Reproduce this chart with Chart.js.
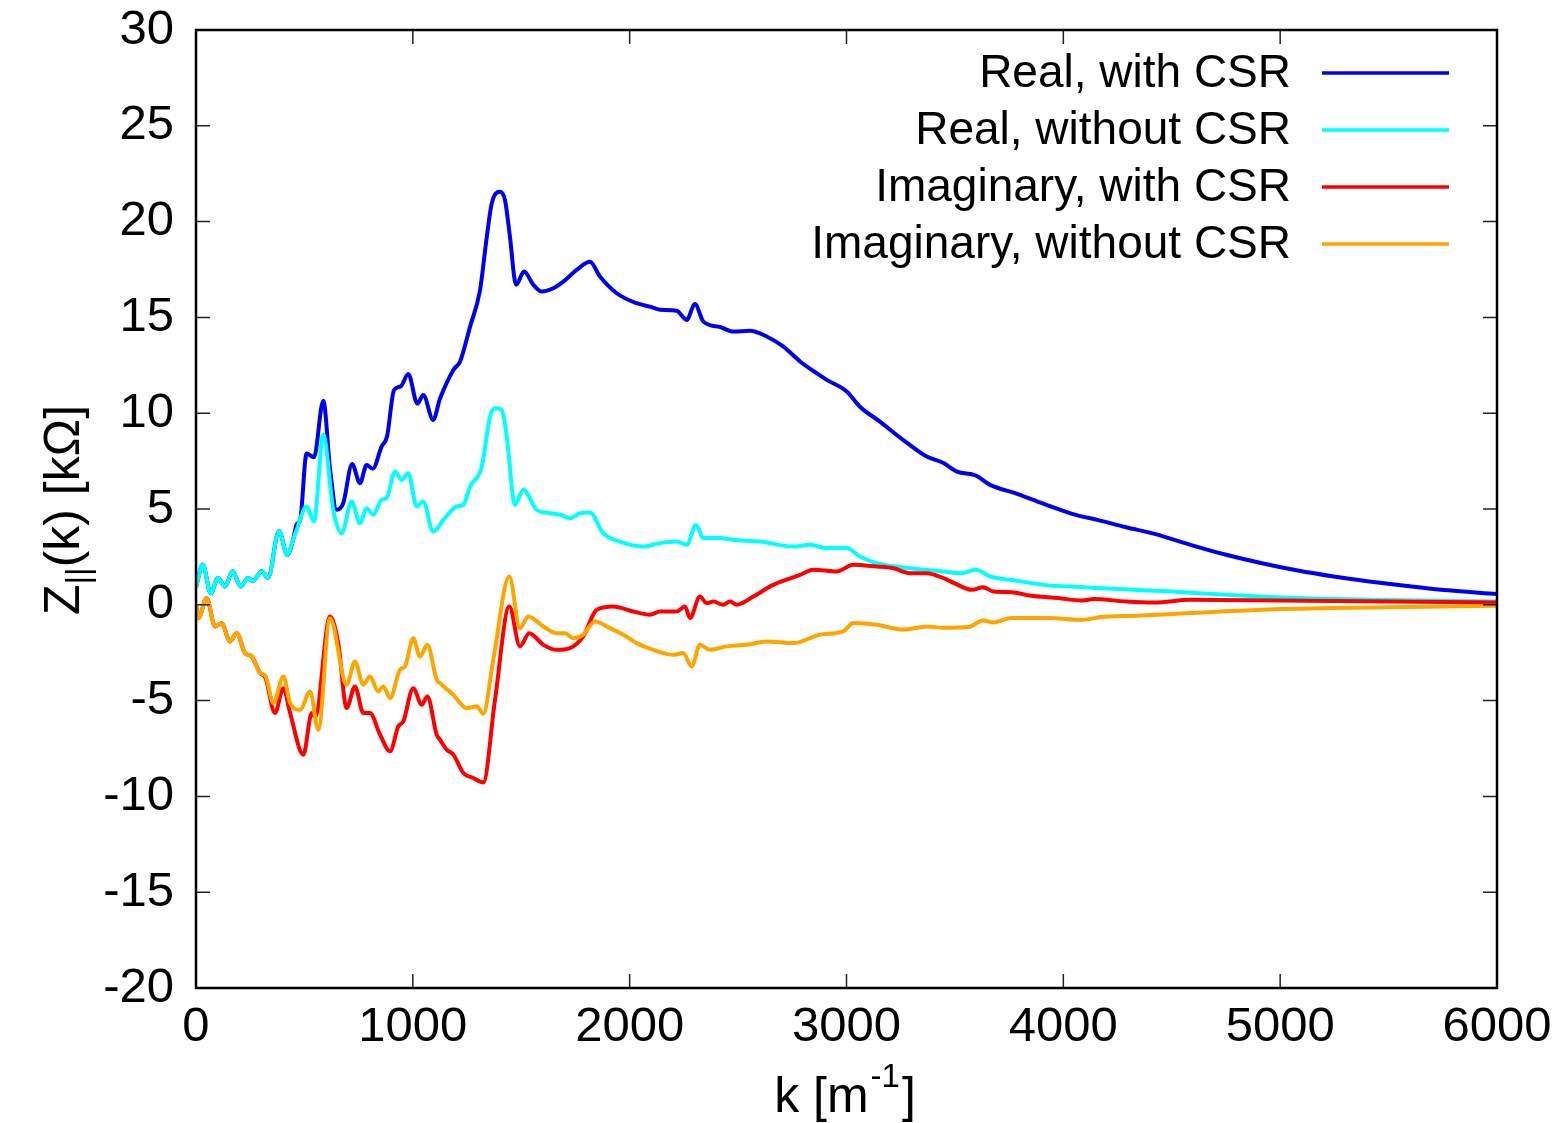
<!DOCTYPE html>
<html>
<head>
<meta charset="utf-8">
<script src="https://cdn.jsdelivr.net/npm/chart.js@4.4.0/dist/chart.umd.min.js"></script>
<style>
  html, body { margin: 0; padding: 0; background: #fff; }
  #wrap { width: 1568px; height: 1123px; }
</style>
</head>
<body>
<div id="wrap"><canvas id="chart" width="1568" height="1123"></canvas></div>
<script>
// values, k in 1/m, Z in kOhm
const realCsrK = [0, 31, 68, 101, 134, 169, 206, 240, 263, 303, 332, 383, 421, 448, 464, 480, 510, 544, 587, 619, 649, 679, 720, 756, 787, 815, 856, 881, 913, 944, 979, 1021, 1048, 1094, 1125, 1187, 1218, 1264, 1310, 1341, 1364, 1402, 1425, 1448, 1476, 1513, 1556, 1594, 1648, 1694, 1756, 1817, 1863, 1940, 2032, 2094, 2140, 2217, 2263, 2301, 2340, 2417, 2478, 2555, 2632, 2709, 2786, 2862, 2909, 3001, 3062, 3154, 3262, 3370, 3447, 3510, 3596, 3662, 3777, 3910, 4058, 4157, 4289, 4421, 4586, 4751, 4916, 5081, 5246, 5411, 5576, 5742, 6000];
const realCsrZ = [0.9, 2.1, 0.6, 1.4, 0.95, 1.75, 0.95, 1.4, 1.25, 1.75, 1.4, 3.85, 2.6, 3.4, 4.2, 4.4, 7.9, 7.7, 10.65, 7.0, 4.96, 5.3, 7.35, 6.35, 7.3, 7.1, 8.26, 8.78, 11.2, 11.4, 12.05, 10.5, 10.95, 9.65, 10.75, 12.26, 12.7, 14.52, 16.43, 19.2, 20.95, 21.56, 21.13, 19.2, 16.7, 17.39, 16.7, 16.35, 16.52, 16.87, 17.48, 17.9, 17.13, 16.26, 15.74, 15.56, 15.4, 15.35, 14.87, 15.7, 14.78, 14.5, 14.26, 14.3, 14.0, 13.47, 12.7, 12.09, 11.74, 11.13, 10.34, 9.56, 8.6, 7.74, 7.4, 6.95, 6.75, 6.26, 5.83, 5.27, 4.69, 4.43, 4.05, 3.7, 3.13, 2.61, 2.17, 1.79, 1.48, 1.22, 0.99, 0.78, 0.56];

const realNoCsrK = [0, 31, 68, 101, 134, 169, 206, 240, 263, 303, 332, 383, 421, 448, 464, 510, 544, 587, 633, 672, 718, 756, 787, 817, 856, 879, 918, 948, 979, 1018, 1048, 1094, 1141, 1202, 1233, 1264, 1318, 1356, 1379, 1410, 1433, 1471, 1510, 1571, 1633, 1679, 1725, 1771, 1817, 1878, 1955, 2063, 2140, 2217, 2263, 2306, 2340, 2417, 2478, 2601, 2755, 2832, 2909, 3001, 3062, 3139, 3293, 3447, 3530, 3596, 3662, 3777, 3910, 4091, 4256, 4504, 4751, 5081, 5411, 6000];
const realNoCsrZ = [0.9, 2.1, 0.6, 1.4, 0.95, 1.75, 0.95, 1.4, 1.25, 1.75, 1.4, 3.85, 2.6, 3.4, 3.9, 5.13, 4.35, 8.87, 4.96, 3.74, 5.39, 4.26, 5.04, 4.7, 5.48, 5.57, 6.96, 6.52, 6.87, 5.13, 5.39, 3.82, 4.43, 5.13, 5.22, 6.17, 7.21, 9.82, 10.26, 10.17, 8.78, 5.22, 6.0, 4.96, 4.78, 4.7, 4.52, 4.78, 4.82, 3.74, 3.3, 3.04, 3.22, 3.3, 3.13, 4.17, 3.48, 3.48, 3.39, 3.3, 3.04, 3.13, 2.96, 2.96, 2.52, 2.17, 1.91, 1.74, 1.65, 1.83, 1.48, 1.27, 1.04, 0.92, 0.82, 0.69, 0.52, 0.35, 0.26, 0.17];

const imagCsrK = [0, 11, 49, 88, 118, 157, 188, 226, 257, 295, 320, 364, 403, 434, 495, 534, 550, 618, 656, 695, 733, 772, 802, 849, 895, 933, 956, 1002, 1041, 1067, 1110, 1125, 1156, 1187, 1233, 1279, 1325, 1379, 1445, 1494, 1537, 1602, 1663, 1725, 1786, 1848, 1924, 2017, 2094, 2140, 2217, 2255, 2278, 2324, 2355, 2386, 2432, 2463, 2494, 2570, 2662, 2786, 2847, 2955, 3031, 3139, 3216, 3293, 3370, 3447, 3497, 3579, 3629, 3679, 3761, 3844, 3976, 4091, 4140, 4289, 4421, 4586, 5000, 6000];
const imagCsrZ = [0, -0.7, 0.35, -1.13, -0.96, -1.91, -1.48, -2.52, -2.7, -3.56, -3.8, -5.65, -4.35, -5.65, -7.82, -5.65, -5.83, -0.61, -2.0, -5.39, -4.26, -5.65, -5.65, -6.78, -7.65, -6.35, -6.09, -4.35, -5.22, -4.78, -6.78, -7.04, -7.56, -7.82, -8.78, -9.04, -9.27, -4.96, -0.09, -2.17, -1.48, -2.09, -2.35, -2.26, -1.65, -0.26, -0.09, -0.35, -0.52, -0.35, -0.35, -0.09, -0.69, 0.43, 0.09, 0.17, 0.0, 0.17, 0.0, 0.43, 1.04, 1.56, 1.83, 1.74, 2.09, 2.0, 1.91, 1.65, 1.65, 1.39, 1.13, 0.78, 0.92, 0.69, 0.66, 0.49, 0.35, 0.22, 0.3, 0.17, 0.12, 0.26, 0.22, 0.12];

const imagNoCsrK = [0, 11, 49, 88, 118, 157, 188, 226, 257, 295, 320, 357, 403, 434, 480, 526, 564, 618, 695, 733, 772, 802, 841, 864, 895, 941, 964, 1002, 1033, 1067, 1110, 1125, 1187, 1248, 1295, 1325, 1371, 1445, 1494, 1532, 1602, 1663, 1702, 1740, 1786, 1840, 1909, 1971, 2032, 2109, 2201, 2247, 2286, 2324, 2370, 2447, 2540, 2632, 2755, 2878, 2985, 3031, 3139, 3262, 3370, 3447, 3563, 3629, 3679, 3761, 3926, 4091, 4173, 4338, 4586, 4916, 5246, 6000];
const imagNoCsrZ = [0, -0.7, 0.35, -1.13, -0.96, -1.91, -1.48, -2.52, -2.7, -3.56, -3.7, -5.13, -3.74, -5.13, -5.48, -4.52, -6.52, -0.7, -4.17, -2.96, -4.17, -3.74, -4.52, -4.26, -4.87, -3.39, -3.22, -1.74, -2.7, -2.09, -3.91, -4.09, -4.7, -5.39, -5.3, -5.69, -2.87, 1.48, -1.22, -0.61, -1.13, -1.48, -1.48, -1.74, -1.56, -0.87, -1.22, -1.56, -2.0, -2.35, -2.61, -2.52, -3.22, -2.09, -2.35, -2.17, -2.09, -1.91, -2.0, -1.56, -1.39, -0.95, -1.04, -1.3, -1.13, -1.2, -1.16, -0.82, -0.92, -0.69, -0.69, -0.78, -0.64, -0.57, -0.43, -0.26, -0.17, -0.05];

const seriesLabels = ['Real, with CSR', 'Real, without CSR', 'Imaginary, with CSR', 'Imaginary, without CSR'];
const seriesColors = ['#0000f0', '#00ffff', '#ff0000', '#ffa500'];
const xTicks = [0, 1000, 2000, 3000, 4000, 5000, 6000];
const yTicks = [-20, -15, -10, -5, 0, 5, 10, 15, 20, 25, 30];

const FONT = '"Liberation Sans", Arial, Helvetica, sans-serif';

function pts(ks, zs) {
    return ks.map((k, i) => ({ x: k, y: zs[i] }));
}

const allK = [realCsrK, realNoCsrK, imagCsrK, imagNoCsrK];
const allZ = [realCsrZ, realNoCsrZ, imagCsrZ, imagNoCsrZ];

const datasets = seriesLabels.map((lab, i) => ({
    label: lab,
    data: pts(allK[i], allZ[i]),
    borderColor: seriesColors[i],
    backgroundColor: seriesColors[i],
    borderWidth: 4,
    pointRadius: 0,
    fill: false,
    cubicInterpolationMode: 'monotone',
    order: 4 - i
}));

// gnuplot-style frame, inward ticks, legend and axis titles
const gnuplotDeco = {
    id: 'gnuplotDeco',
    afterDraw(chart) {
        const ctx = chart.ctx;
        const a = chart.chartArea;
        const xs = chart.scales.x, ys = chart.scales.y;
        ctx.save();
        ctx.strokeStyle = '#222';
        ctx.lineWidth = 1.5;
        const tl = 14;
        ctx.beginPath();
        xTicks.forEach(v => {
            const px = xs.getPixelForValue(v);
            ctx.moveTo(px, a.bottom); ctx.lineTo(px, a.bottom - tl);
            ctx.moveTo(px, a.top); ctx.lineTo(px, a.top + tl);
        });
        yTicks.forEach(v => {
            const py = ys.getPixelForValue(v);
            ctx.moveTo(a.left, py); ctx.lineTo(a.left + tl, py);
            ctx.moveTo(a.right, py); ctx.lineTo(a.right - tl, py);
        });
        ctx.stroke();
        ctx.strokeStyle = '#000';
        ctx.lineWidth = 2.5;
        ctx.strokeRect(a.left, a.top, a.right - a.left, a.bottom - a.top);

        // legend
        ctx.font = '46px ' + FONT;
        ctx.textAlign = 'right';
        ctx.textBaseline = 'middle';
        chart.data.datasets.forEach((ds, i) => {
            const y = 73 + i * 57;
            ctx.fillStyle = '#000';
            ctx.fillText(ds.label, 1291, y + 1);
            ctx.strokeStyle = ds.borderColor;
            ctx.lineWidth = 3.5;
            ctx.beginPath();
            ctx.moveTo(1322, y); ctx.lineTo(1449, y);
            ctx.stroke();
        });

        // x title: k [m^-1]
        ctx.fillStyle = '#000';
        ctx.textAlign = 'left';
        ctx.textBaseline = 'alphabetic';
        const big = '50px ' + FONT, small = '33px ' + FONT;
        ctx.font = big;
        const p1 = 'k [m', p3 = ']';
        ctx.font = small; const w2 = ctx.measureText('-1').width;
        ctx.font = big;
        const w1 = ctx.measureText(p1).width, w3 = ctx.measureText(p3).width;
        let x0 = 845 - (w1 + w2 + w3 + 4) / 2;
        const base = 1112;
        ctx.fillText(p1, x0, base);
        ctx.font = small;
        ctx.fillText('-1', x0 + w1 + 2, base - 25);
        ctx.font = big;
        ctx.fillText(p3, x0 + w1 + w2 + 4, base);

        // y title: Z_||(k) [kOhm], rotated
        ctx.translate(62, 510);
        ctx.rotate(-Math.PI / 2);
        const q1 = 'Z', q2 = '||', q3 = '(k) [k\u03A9]';
        ctx.font = small; const v2 = ctx.measureText(q2).width;
        ctx.font = big;
        const v1 = ctx.measureText(q1).width, v3 = ctx.measureText(q3).width;
        let s0 = -(v1 + v2 + v3) / 2;
        ctx.fillText(q1, s0, 17);
        ctx.font = small;
        ctx.fillText(q2, s0 + v1, 27);
        ctx.font = big;
        ctx.fillText(q3, s0 + v1 + v2, 17);
        ctx.restore();
    }
};

new Chart(document.getElementById('chart').getContext('2d'), {
    type: 'line',
    data: { datasets: datasets },
    options: {
        responsive: false,
        animation: false,
        layout: { padding: { left: 0, top: 30, right: 71, bottom: 0 } },
        plugins: { legend: { display: false }, tooltip: { enabled: false } },
        scales: {
            x: {
                type: 'linear',
                min: 0, max: 6000,
                afterBuildTicks: s => { s.ticks = xTicks.map(v => ({ value: v })); },
                afterFit: s => { s.height = 135; s.paddingLeft = 0; s.paddingRight = 0; },
                grid: { display: false, drawTicks: false },
                border: { display: false },
                ticks: {
                    color: '#000', font: { family: FONT, size: 49 }, padding: 10,
                    maxRotation: 0, autoSkip: false,
                    callback: v => String(v)
                }
            },
            y: {
                type: 'linear',
                min: -20, max: 30,
                afterBuildTicks: s => { s.ticks = yTicks.map(v => ({ value: v })); },
                afterFit: s => { s.width = 196; s.paddingTop = 0; s.paddingBottom = 0; },
                grid: { display: false, drawTicks: false },
                border: { display: false },
                ticks: { color: '#000', font: { family: FONT, size: 49 }, padding: 22, callback: v => String(v) }
            }
        }
    },
    plugins: [gnuplotDeco]
});
</script>
</body>
</html>
